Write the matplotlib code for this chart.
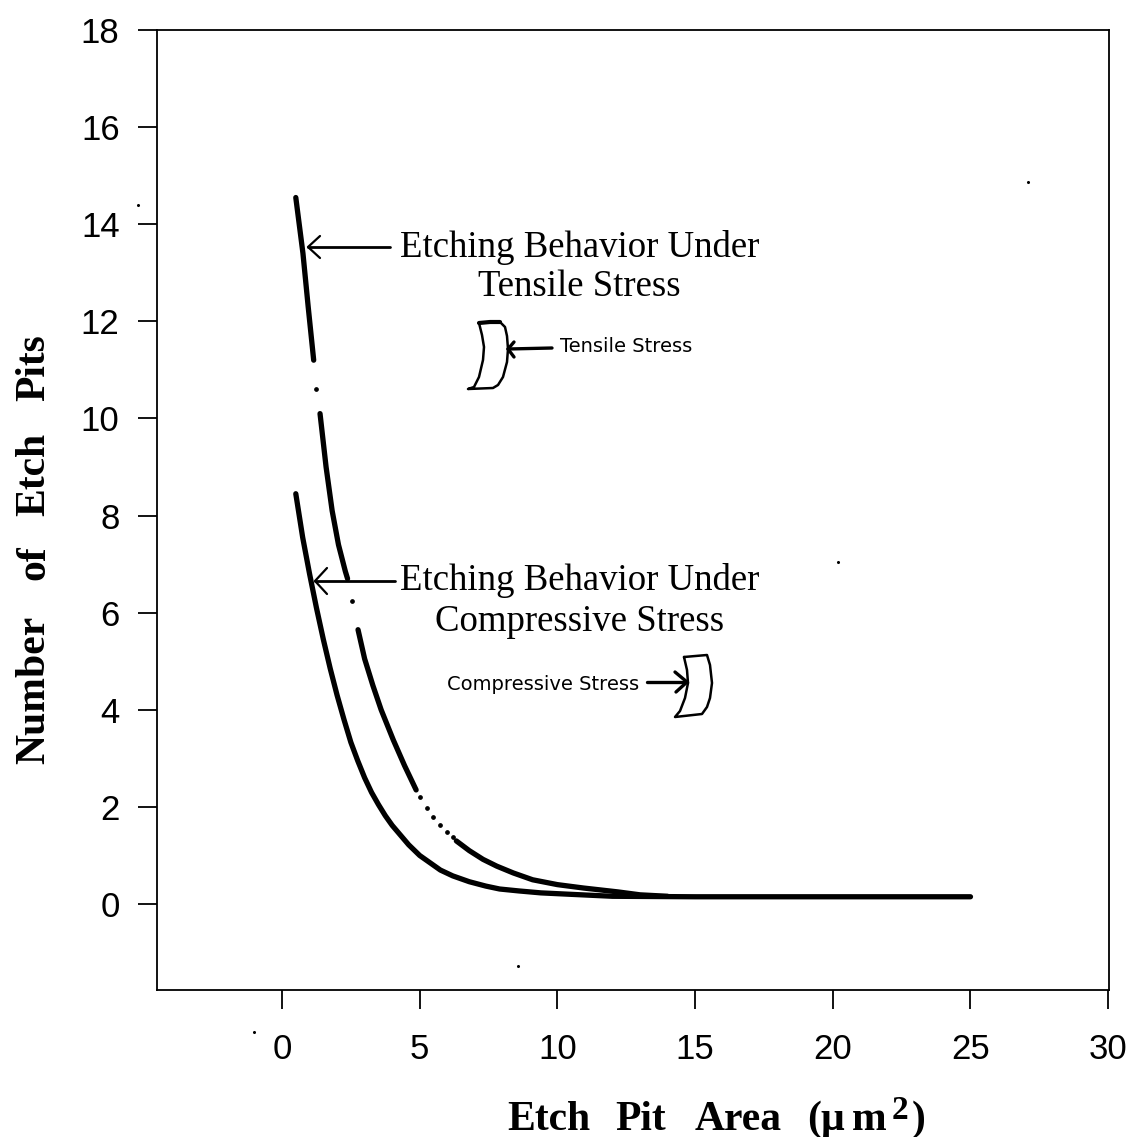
import matplotlib
matplotlib.use('Agg')
import matplotlib.pyplot as plt
from matplotlib.lines import Line2D

W, H = 1133, 1137

# upper curve (tensile), pieces between the gaps in the scan
ten_x1 = [0.5, 0.76, 0.95, 1.15]
ten_y1 = [14.55, 13.4, 12.3, 11.2]
ten_x2 = [1.38, 1.6, 1.82, 2.05, 2.3, 2.38]
ten_y2 = [10.1, 9.0, 8.1, 7.4, 6.85, 6.7]
ten_x3 = [2.76, 3.0, 3.3, 3.6, 4.04, 4.45, 4.87]
ten_y3 = [5.65, 5.05, 4.5, 4.0, 3.38, 2.85, 2.35]
ten_dots_x = [1.24, 2.55, 5.0, 5.25, 5.5, 5.75, 6.0, 6.2]
ten_dots_y = [10.6, 6.25, 2.2, 1.98, 1.8, 1.62, 1.48, 1.38]
ten_x4 = [6.33, 6.8, 7.3, 7.8, 8.4, 9.1, 10.0, 10.95, 12.2, 13.0, 14.0]
ten_y4 = [1.3, 1.1, 0.92, 0.78, 0.64, 0.5, 0.4, 0.33, 0.25, 0.19, 0.16]

# lower curve (compressive)
com_x = [0.5, 0.75, 1.0, 1.25, 1.5, 1.75, 2.0, 2.25, 2.5, 2.75, 3.0, 3.25, 3.5, 3.75, 4.0, 4.3, 4.6, 5.0,
         5.4, 5.75, 6.2, 6.8, 7.4, 7.9, 8.6, 9.4, 10.5, 12.0, 15.0, 20.0, 25.0]
com_y = [8.45, 7.55, 6.8, 6.1, 5.45, 4.85, 4.3, 3.8, 3.33, 2.95, 2.6, 2.3, 2.05, 1.82, 1.62, 1.42, 1.22, 1.0,
         0.84, 0.7, 0.58, 0.46, 0.37, 0.31, 0.27, 0.23, 0.2, 0.16, 0.15, 0.15, 0.15]

xticks = [0, 5, 10, 15, 20, 25, 30]
yticks = [0, 2, 4, 6, 8, 10, 12, 14, 16, 18]

# note drawings, in picture pixels
shape_ten = [(479, 323), (490, 322), (500, 322), (505, 327), (507, 336), (508, 349), (507, 362), (503, 377),
             (498, 385), (493, 388), (468, 389), (474, 387), (479, 377), (483, 360), (484, 347), (482, 335), (479, 323)]
shape_com = [(684, 657), (707, 655), (710, 665), (712, 683), (710, 698), (707, 707), (702, 714), (675, 717),
             (680, 711), (685, 698), (688, 683), (687, 670), (684, 657)]


def fx(p):
    return p / W


def fy(p):
    return 1 - p / H


def pixline(fig, pts, lw):
    fig.add_artist(Line2D([fx(p[0]) for p in pts], [fy(p[1]) for p in pts], color='k', lw=lw,
                          solid_capstyle='round', solid_joinstyle='round', transform=fig.transFigure))


fig = plt.figure(figsize=(W / 100, H / 100), dpi=100)
ax = fig.add_axes([fx(157), fy(990), (1109 - 157) / W, (990 - 30) / H])
ax.set_xlim(-4.54, 30.03)
ax.set_ylim(-1.77, 18)

for xs, ys in [(ten_x1, ten_y1), (ten_x2, ten_y2), (ten_x3, ten_y3), (ten_x4, ten_y4), (com_x, com_y)]:
    ax.plot(xs, ys, color='k', lw=3.8, solid_capstyle='round')
ax.plot(ten_dots_x, ten_dots_y, 'o', color='k', ms=2.4)

for s in ax.spines.values():
    s.set_linewidth(1.3)
ax.set_xticks(xticks)
ax.set_yticks(yticks)
ax.tick_params(length=14, width=1.3, labelsize=25, pad=17)
ax.tick_params(axis='y', pad=13)
for t in ax.get_xticklabels() + ax.get_yticklabels():
    t.set_family('Liberation Sans')

# axis titles word by word, the original has wide letter spacing
bold = dict(family='Liberation Serif', weight='bold', va='baseline', ha='left')
for word, px in [('Etch', 507), ('Pit', 615), ('Area', 695), ('(\u00b5', 807), ('m', 852), (')', 912)]:
    fig.text(fx(px), fy(1130), word, fontsize=30, **bold)
fig.text(fx(892), fy(1119), '2', fontsize=24, **bold)
for word, py in [('Number', 764), ('of', 580), ('Etch', 516), ('Pits', 401)]:
    fig.text(fx(44), fy(py), word, fontsize=30, rotation=90, rotation_mode='anchor', **bold)

serif = dict(family='Liberation Serif', fontsize=26.5, ha='center', va='center')
fig.text(fx(580), fy(247), 'Etching Behavior Under', **serif)
fig.text(fx(579), fy(287), 'Tensile Stress', **serif)
fig.text(fx(580), fy(580), 'Etching Behavior Under', **serif)
fig.text(fx(580), fy(622), 'Compressive Stress', **serif)

small = dict(family='DejaVu Sans', fontsize=14, ha='center', va='center')
fig.text(fx(626), fy(347), 'Tensile Stress', **small)
fig.text(fx(543), fy(685), 'Compressive Stress', **small)

pixline(fig, shape_ten, 1.8)
pixline(fig, shape_ten[:3], 3)
pixline(fig, shape_com, 1.8)

# arrows
pixline(fig, [(390, 247), (308, 247)], 2)
pixline(fig, [(320, 236), (308, 247), (320, 258)], 1.6)
pixline(fig, [(395, 581), (315, 581)], 2)
pixline(fig, [(327, 568), (315, 581), (327, 594)], 1.6)
pixline(fig, [(552, 348), (508, 349)], 2.4)
pixline(fig, [(514, 342), (508, 349), (514, 357)], 2.4)
pixline(fig, [(647, 682), (687, 682)], 2.4)
pixline(fig, [(675, 672), (687, 682), (676, 692)], 2.4)

# specks from the scan
for p in [(518, 966), (838, 562), (1028, 182), (254, 1032), (138, 205)]:
    fig.add_artist(Line2D([fx(p[0])], [fy(p[1])], marker='o', ms=1.2, color='k', transform=fig.transFigure))

fig.savefig('out.png', dpi=100)
